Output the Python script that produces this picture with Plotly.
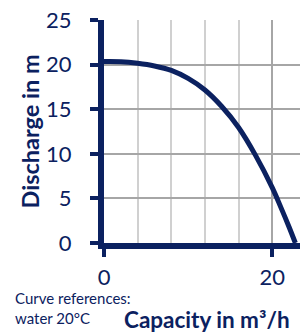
import plotly.graph_objects as go

capacity = [0, 2, 4, 6, 8, 10, 12, 14, 16, 18, 20, 21, 22, 22.75]
discharge = [20.35, 20.33, 20.15, 19.85, 19.35, 18.45, 17.15, 15.3, 12.95, 9.85, 6.2, 4.05, 1.8, 0]

NAVY = "#0b2160"
FONT = "Lato"

W, H = 300, 333
L, R, T, B = 104, 0, 20, 90

fig = go.Figure()
fig.add_trace(go.Scatter(x=capacity, y=discharge, mode="lines",
                         line=dict(color=NAVY, width=5, shape="spline", smoothing=1),
                         hoverinfo="skip", showlegend=False, cliponaxis=False))

fig.update_layout(
    width=W, height=H,
    margin=dict(l=L, r=R, t=T, b=B, pad=0),
    paper_bgcolor="white", plot_bgcolor="white",
    font=dict(family=FONT, color=NAVY),
    showlegend=False,
    xaxis=dict(range=[0, 23.3], tickvals=[0, 20], ticktext=["0", "20"],
               showline=True, linecolor=NAVY, linewidth=6,
               ticks="outside", ticklen=8, tickwidth=4, tickcolor=NAVY,
               tickfont=dict(size=22, color=NAVY, family=FONT),
               ticklabelstandoff=2,
               showgrid=True, gridcolor="#a6a6a6", gridwidth=1.5,
               minor=dict(dtick=4, tick0=0, showgrid=True, gridcolor="#d0d0d0", gridwidth=1.5, ticks=""),
               zeroline=False, fixedrange=True),
    yaxis=dict(range=[0, 25], dtick=5, tick0=0,
               showline=True, linecolor=NAVY, linewidth=6,
               ticks="outside", ticklen=8, tickwidth=4, tickcolor=NAVY,
               tickfont=dict(size=22, color=NAVY, family=FONT),
               ticklabelstandoff=14,
               showgrid=True, gridcolor="#a6a6a6", gridwidth=1.5,
               zeroline=False, fixedrange=True),
    annotations=[
        dict(text="<b>Discharge in m</b>", xref="paper", yref="paper",
             x=-(L - 29) / (W - L - R), y=0.5, textangle=-90, showarrow=False,
             font=dict(size=23.5, color=NAVY, family=FONT), xanchor="center", yanchor="middle"),
        dict(text="<b>Capacity in m³/h</b>", xref="paper", yref="paper",
             x=(207 - L) / (W - L - R), y=-(319 - (H - B)) / (H - T - B), showarrow=False,
             font=dict(size=22.5, color=NAVY, family=FONT), xanchor="center", yanchor="middle"),
        dict(text="Curve references:<br>water 20°C", xref="paper", yref="paper",
             x=-(L - 13) / (W - L - R), y=-(287 - (H - B)) / (H - T - B), showarrow=False, align="left",
             font=dict(size=15, color=NAVY, family=FONT), xanchor="left", yanchor="top"),
    ],
)

fig.write_html("out.html", config={"displayModeBar": False},
               post_script="document.body.style.margin='0';document.body.style.overflow='hidden';")
